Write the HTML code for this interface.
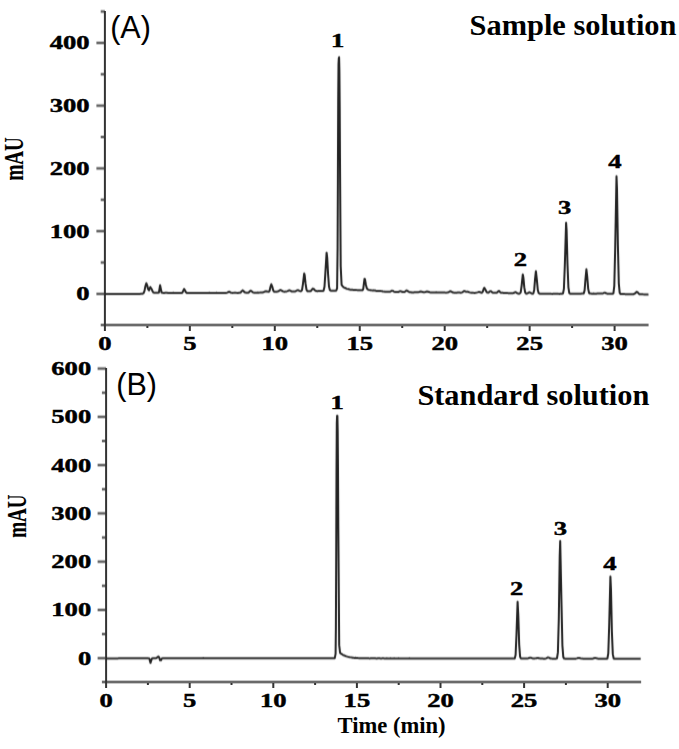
<!DOCTYPE html>
<html><head><meta charset="utf-8"><style>
html,body{margin:0;padding:0;background:#fff;overflow:hidden;}
svg{display:block;}
.t{font-family:"Liberation Serif",serif;font-weight:bold;fill:#000;font-size:19px;stroke:#000;stroke-width:0.45px;}
.ttl{font-family:"Liberation Serif",serif;font-weight:bold;fill:#000;}
.lab{font-family:"Liberation Sans",sans-serif;fill:#000;}
</style></head><body>
<svg width="679" height="749" viewBox="0 0 679 749">
<rect width="679" height="749" fill="#fff"/>
<defs><filter id="tb" x="-2%" y="-2%" width="104%" height="104%" color-interpolation-filters="sRGB"><feConvolveMatrix order="3 3" kernelMatrix="0.0120 0.1760 0.0120 0.0360 0.5280 0.0360 0.0120 0.1760 0.0120" divisor="1" edgeMode="none" preserveAlpha="false"/></filter><filter id="vb" x="-2%" y="-2%" width="104%" height="104%" color-interpolation-filters="sRGB"><feConvolveMatrix order="1 3" kernelMatrix="0.27 0.46 0.27" divisor="1" edgeMode="none" preserveAlpha="false"/></filter></defs>
<g stroke="#333" stroke-width="2" fill="none" stroke-linecap="butt">
<line x1="104.90" y1="10.92" x2="104.90" y2="326.00" />
<line x1="104.90" y1="326.00" x2="104.90" y2="331.00" />
<line x1="147.38" y1="326.00" x2="147.38" y2="328.00" />
<line x1="189.85" y1="326.00" x2="189.85" y2="331.00" />
<line x1="232.32" y1="326.00" x2="232.32" y2="328.00" />
<line x1="274.80" y1="326.00" x2="274.80" y2="331.00" />
<line x1="317.27" y1="326.00" x2="317.27" y2="328.00" />
<line x1="359.75" y1="326.00" x2="359.75" y2="331.00" />
<line x1="402.23" y1="326.00" x2="402.23" y2="328.00" />
<line x1="444.70" y1="326.00" x2="444.70" y2="331.00" />
<line x1="487.17" y1="326.00" x2="487.17" y2="328.00" />
<line x1="529.65" y1="326.00" x2="529.65" y2="331.00" />
<line x1="572.12" y1="326.00" x2="572.12" y2="328.00" />
<line x1="614.60" y1="326.00" x2="614.60" y2="331.00" />
<line x1="106.10" y1="367.98" x2="106.10" y2="683.00" />
<line x1="106.10" y1="683.00" x2="106.10" y2="688.00" />
<line x1="147.90" y1="683.00" x2="147.90" y2="685.00" />
<line x1="189.70" y1="683.00" x2="189.70" y2="688.00" />
<line x1="231.50" y1="683.00" x2="231.50" y2="685.00" />
<line x1="273.30" y1="683.00" x2="273.30" y2="688.00" />
<line x1="315.10" y1="683.00" x2="315.10" y2="685.00" />
<line x1="356.90" y1="683.00" x2="356.90" y2="688.00" />
<line x1="398.70" y1="683.00" x2="398.70" y2="685.00" />
<line x1="440.50" y1="683.00" x2="440.50" y2="688.00" />
<line x1="482.30" y1="683.00" x2="482.30" y2="685.00" />
<line x1="524.10" y1="683.00" x2="524.10" y2="688.00" />
<line x1="565.90" y1="683.00" x2="565.90" y2="685.00" />
<line x1="607.70" y1="683.00" x2="607.70" y2="688.00" />
</g>
<g stroke="#333" stroke-width="2" fill="none" stroke-linecap="butt" filter="url(#vb)">
<line x1="103.90" y1="325.00" x2="648.58" y2="325.00" />
<line x1="100.70" y1="325.00" x2="104.90" y2="325.00" />
<line x1="96.40" y1="293.90" x2="104.90" y2="293.90" />
<line x1="100.70" y1="262.52" x2="104.90" y2="262.52" />
<line x1="96.40" y1="231.15" x2="104.90" y2="231.15" />
<line x1="100.70" y1="199.77" x2="104.90" y2="199.77" />
<line x1="96.40" y1="168.40" x2="104.90" y2="168.40" />
<line x1="100.70" y1="137.02" x2="104.90" y2="137.02" />
<line x1="96.40" y1="105.65" x2="104.90" y2="105.65" />
<line x1="100.70" y1="74.28" x2="104.90" y2="74.28" />
<line x1="96.40" y1="42.90" x2="104.90" y2="42.90" />
<line x1="100.70" y1="11.52" x2="104.90" y2="11.52" />
<line x1="105.10" y1="682.00" x2="641.14" y2="682.00" />
<line x1="101.90" y1="682.00" x2="106.10" y2="682.00" />
<line x1="97.60" y1="658.20" x2="106.10" y2="658.20" />
<line x1="101.90" y1="634.07" x2="106.10" y2="634.07" />
<line x1="97.60" y1="609.93" x2="106.10" y2="609.93" />
<line x1="101.90" y1="585.80" x2="106.10" y2="585.80" />
<line x1="97.60" y1="561.66" x2="106.10" y2="561.66" />
<line x1="101.90" y1="537.53" x2="106.10" y2="537.53" />
<line x1="97.60" y1="513.39" x2="106.10" y2="513.39" />
<line x1="101.90" y1="489.26" x2="106.10" y2="489.26" />
<line x1="97.60" y1="465.12" x2="106.10" y2="465.12" />
<line x1="101.90" y1="440.99" x2="106.10" y2="440.99" />
<line x1="97.60" y1="416.85" x2="106.10" y2="416.85" />
<line x1="101.90" y1="392.72" x2="106.10" y2="392.72" />
<line x1="97.60" y1="368.58" x2="106.10" y2="368.58" />
</g>
<g filter="url(#tb)">
<path d="M104.90,293.90 L105.80,293.90 L106.70,293.90 L107.60,293.90 L108.50,293.90 L109.40,293.90 L110.30,293.90 L111.20,293.90 L112.10,293.90 L113.00,293.90 L113.90,293.90 L114.80,293.90 L115.70,293.90 L116.60,293.90 L117.50,293.90 L118.40,293.90 L119.30,293.90 L120.20,293.90 L121.10,293.90 L122.00,293.90 L122.90,293.90 L123.80,293.90 L124.70,293.90 L125.60,293.90 L126.50,293.90 L127.40,293.90 L128.30,293.90 L129.20,293.90 L130.10,293.90 L131.00,293.90 L131.90,293.90 L132.80,293.90 L133.70,293.90 L134.60,293.90 L135.50,293.90 L136.40,293.90 L137.30,293.90 L138.20,293.90 L139.10,293.90 L140.00,293.90 L140.90,293.84 L141.80,293.80 L142.70,293.69 L143.60,293.16 L144.50,290.91 L145.40,286.18 L146.30,283.19 L147.20,285.32 L148.10,289.20 L149.00,290.35 L149.90,287.89 L150.40,287.16 L151.70,289.24 L152.60,291.41 L153.50,292.52 L154.40,292.78 L155.30,292.82 L156.20,292.87 L157.10,292.84 L158.00,292.80 L158.90,292.59 L160.10,285.23 L160.70,288.23 L161.60,292.49 L162.50,292.86 L163.40,292.95 L164.30,292.94 L165.20,292.83 L166.10,292.79 L167.00,292.86 L167.90,292.93 L168.80,292.95 L169.70,293.01 L170.60,293.07 L171.50,293.03 L172.40,292.89 L173.30,292.83 L174.20,292.91 L175.10,293.01 L176.00,293.03 L176.90,293.05 L177.80,293.09 L178.70,293.07 L179.60,292.96 L180.50,292.90 L181.40,292.95 L182.30,292.71 L183.20,290.87 L184.10,289.00 L185.00,290.34 L185.90,292.26 L186.80,292.91 L187.70,292.98 L188.60,293.03 L189.50,293.05 L190.40,292.97 L191.30,292.90 L192.20,292.95 L193.10,293.03 L194.00,293.03 L194.90,293.00 L195.80,293.04 L196.70,293.06 L197.60,293.00 L198.50,292.93 L199.40,292.96 L200.30,293.02 L201.20,292.99 L202.10,292.94 L203.00,292.98 L203.90,293.06 L204.80,293.05 L205.70,292.99 L206.60,292.98 L207.50,292.99 L208.40,292.92 L209.30,292.85 L210.20,292.90 L211.10,293.03 L212.00,293.07 L212.90,293.01 L213.80,292.97 L214.70,292.96 L215.60,292.91 L216.50,292.84 L217.40,292.88 L218.30,292.99 L219.20,293.01 L220.10,292.94 L221.00,292.90 L221.90,292.94 L222.80,292.96 L223.70,292.91 L224.60,292.90 L225.50,292.94 L226.40,292.90 L227.30,292.63 L228.20,292.09 L229.10,291.73 L230.00,292.13 L230.90,292.68 L231.80,292.86 L232.70,292.89 L233.60,292.84 L234.50,292.75 L235.40,292.74 L236.30,292.85 L237.20,292.93 L238.10,292.89 L239.00,292.82 L239.90,292.76 L240.80,292.36 L241.70,291.21 L242.60,290.40 L243.50,291.02 L244.40,292.06 L245.30,292.57 L246.20,292.68 L247.10,292.75 L248.00,292.75 L248.90,292.29 L249.80,291.23 L250.70,290.68 L251.60,291.28 L252.50,292.08 L253.40,292.48 L254.30,292.66 L255.20,292.75 L256.10,292.72 L257.00,292.63 L257.90,292.62 L258.80,292.65 L259.70,292.62 L260.60,292.55 L261.50,292.55 L262.40,292.53 L263.30,292.29 L264.20,291.85 L265.10,291.43 L266.00,291.27 L266.90,291.40 L267.80,291.66 L268.70,291.78 L269.60,290.73 L270.50,286.85 L271.30,284.27 L272.30,286.85 L273.20,290.34 L274.10,291.73 L275.00,291.82 L275.90,291.71 L276.80,291.70 L277.70,291.61 L278.60,291.20 L279.50,290.48 L280.40,290.02 L281.30,290.35 L282.20,291.01 L283.10,291.44 L284.00,291.64 L284.90,291.69 L285.80,291.61 L286.70,291.43 L287.60,291.10 L288.50,290.60 L289.40,290.33 L290.30,290.62 L291.20,291.19 L292.10,291.53 L293.00,291.54 L293.90,291.45 L294.80,291.40 L295.70,291.24 L296.60,290.74 L297.50,290.19 L298.40,290.23 L299.30,290.80 L300.20,291.21 L301.10,291.23 L302.00,290.13 L302.90,284.34 L304.20,273.44 L304.70,275.35 L305.60,283.96 L306.50,289.73 L307.40,291.17 L308.30,291.30 L309.20,291.32 L310.10,291.28 L311.00,290.86 L311.90,289.67 L312.80,288.56 L313.70,288.96 L314.60,290.02 L315.50,290.80 L316.40,291.12 L317.30,291.19 L318.20,291.11 L319.10,291.01 L320.00,291.03 L320.90,291.12 L321.80,291.12 L322.70,291.02 L323.60,290.56 L324.50,286.77 L325.40,272.33 L326.60,252.65 L327.20,257.51 L328.10,274.55 L329.00,286.55 L329.90,290.19 L330.80,290.68 L331.70,290.75 L332.60,290.80 L333.50,290.76 L334.40,290.73 L335.30,290.71 L336.20,290.57 L337.10,288.41 L337.60,247.42 L337.90,176.47 L338.20,102.40 L338.50,64.29 L338.80,58.22 L339.10,57.28 L339.40,71.13 L339.70,107.65 L340.00,162.45 L340.70,266.24 L341.60,284.90 L342.50,286.06 L343.40,287.03 L344.30,287.58 L345.20,288.00 L346.10,288.49 L347.00,288.87 L347.90,289.10 L348.80,289.30 L349.70,289.54 L350.60,289.73 L351.50,289.79 L352.40,289.82 L353.30,289.91 L354.20,290.00 L355.10,290.01 L356.00,290.02 L356.90,290.13 L357.80,290.24 L358.70,290.22 L359.60,290.18 L360.50,290.23 L361.40,290.32 L362.30,290.32 L363.20,289.24 L364.50,278.88 L365.00,279.29 L365.90,284.75 L366.80,288.31 L367.70,289.39 L368.60,289.84 L369.50,290.11 L370.40,290.24 L371.30,290.35 L372.20,290.41 L373.10,290.39 L374.00,290.37 L374.90,290.50 L375.80,290.77 L376.70,290.95 L377.60,291.00 L378.50,291.04 L379.40,291.10 L380.30,291.11 L381.20,291.12 L382.10,291.26 L383.00,291.48 L383.90,291.62 L384.80,291.64 L385.70,291.68 L386.60,291.79 L387.50,291.86 L388.40,291.85 L389.30,291.84 L390.20,291.72 L391.10,291.20 L392.00,290.65 L392.90,290.86 L393.80,291.56 L394.70,291.96 L395.60,292.02 L396.50,292.03 L397.40,292.07 L398.30,291.97 L399.20,291.56 L400.10,291.16 L401.00,291.32 L401.90,291.79 L402.80,292.04 L403.70,292.08 L404.60,291.90 L405.50,291.21 L406.40,290.47 L407.30,290.64 L408.20,291.42 L409.10,291.99 L410.00,292.16 L410.90,292.24 L411.80,292.39 L412.70,292.48 L413.60,292.41 L414.50,292.27 L415.40,292.22 L416.30,292.24 L417.20,292.24 L418.10,292.18 L419.00,292.02 L419.90,291.72 L420.80,291.57 L421.70,291.76 L422.60,292.09 L423.50,292.31 L424.40,292.32 L425.30,292.13 L426.20,291.80 L427.10,291.58 L428.00,291.69 L428.90,292.00 L429.80,292.29 L430.70,292.48 L431.60,292.52 L432.50,292.47 L433.40,292.44 L434.30,292.45 L435.20,292.41 L436.10,292.37 L437.00,292.43 L437.90,292.57 L438.80,292.61 L439.70,292.54 L440.60,292.50 L441.50,292.51 L442.40,292.49 L443.30,292.43 L444.20,292.45 L445.10,292.56 L446.00,292.63 L446.90,292.58 L447.80,292.45 L448.70,292.11 L449.60,291.52 L450.50,291.23 L451.40,291.61 L452.30,292.23 L453.20,292.57 L454.10,292.65 L455.00,292.67 L455.90,292.73 L456.80,292.71 L457.70,292.59 L458.60,292.53 L459.50,292.61 L460.40,292.71 L461.30,292.67 L462.20,292.37 L463.10,291.69 L464.00,291.05 L464.90,291.23 L465.80,291.75 L466.70,291.77 L467.60,291.62 L468.50,291.93 L469.40,292.37 L470.30,292.62 L471.20,292.72 L472.10,292.75 L473.00,292.78 L473.90,292.88 L474.80,292.94 L475.70,292.84 L476.60,292.63 L477.50,292.39 L478.40,292.11 L479.30,292.00 L480.20,292.25 L481.10,292.66 L482.00,292.71 L482.90,291.39 L483.80,288.54 L484.30,287.83 L485.60,290.03 L486.50,291.90 L487.40,292.60 L488.30,292.65 L489.20,292.10 L490.10,291.16 L491.00,291.17 L491.90,292.13 L492.80,292.75 L493.70,292.85 L494.60,292.79 L495.50,292.79 L496.40,292.78 L497.30,292.32 L498.20,291.30 L499.10,291.06 L500.00,292.00 L500.90,292.71 L501.80,292.83 L502.70,292.84 L503.60,292.92 L504.50,292.94 L505.40,292.88 L506.30,292.90 L507.20,293.02 L508.10,293.13 L509.00,293.16 L509.90,293.19 L510.80,293.26 L511.70,293.27 L512.60,293.18 L513.50,293.01 L514.40,292.54 L515.30,292.06 L516.20,292.42 L517.10,293.19 L518.00,293.58 L518.90,293.65 L519.80,293.52 L520.70,292.29 L521.60,285.77 L522.80,274.41 L523.40,277.59 L524.30,287.44 L525.20,292.65 L526.10,293.66 L527.00,293.61 L527.90,293.17 L528.80,292.46 L529.70,292.34 L530.60,292.99 L531.50,293.49 L532.40,293.66 L533.30,293.43 L534.20,289.94 L535.10,278.51 L535.90,271.14 L536.90,280.03 L537.80,290.03 L538.70,293.19 L539.60,293.66 L540.50,293.79 L541.40,293.82 L542.30,293.77 L543.20,293.77 L544.10,293.81 L545.00,293.79 L545.90,293.71 L546.80,293.71 L547.70,293.77 L548.60,293.77 L549.50,293.73 L550.40,293.76 L551.30,293.86 L552.20,293.88 L553.10,293.80 L554.00,293.74 L554.90,293.76 L555.80,293.75 L556.70,293.71 L557.60,293.75 L558.50,293.87 L559.40,293.92 L560.30,293.83 L561.20,293.75 L562.10,293.76 L563.00,293.43 L563.90,288.92 L564.80,265.94 L566.10,222.77 L566.60,230.38 L567.50,264.57 L568.40,287.31 L569.30,293.09 L570.20,293.80 L571.10,293.79 L572.00,293.71 L572.90,293.70 L573.80,293.70 L574.70,293.65 L575.60,293.65 L576.50,293.77 L577.40,293.86 L578.30,293.80 L579.20,293.68 L580.10,293.65 L581.00,293.65 L581.90,293.62 L582.80,293.61 L583.70,293.43 L584.60,290.39 L585.50,278.93 L586.40,269.37 L587.30,277.46 L588.20,288.85 L589.10,293.02 L590.00,293.56 L590.90,293.61 L591.80,293.66 L592.70,293.64 L593.60,293.59 L594.50,293.63 L595.40,293.71 L596.30,293.69 L597.20,293.58 L598.10,293.55 L599.00,293.59 L599.90,293.58 L600.80,293.56 L601.70,293.58 L602.60,293.51 L603.50,293.13 L604.40,292.71 L605.30,292.80 L606.20,293.30 L607.10,293.63 L608.00,293.68 L608.90,293.69 L609.80,293.78 L610.70,293.84 L611.60,293.84 L612.50,293.87 L613.40,293.40 L614.30,285.83 L615.20,247.80 L616.50,176.33 L617.00,188.95 L617.90,245.61 L618.80,283.30 L619.70,292.91 L620.60,294.06 L621.50,294.11 L622.40,294.00 L623.30,293.95 L624.20,294.03 L625.10,294.13 L626.00,294.14 L626.90,294.13 L627.80,294.17 L628.70,294.19 L629.60,294.15 L630.50,294.14 L631.40,294.24 L632.30,294.31 L633.20,294.24 L634.10,294.01 L635.00,293.48 L635.90,292.49 L636.80,291.79 L637.70,292.31 L638.60,293.49 L639.50,294.23 L640.40,294.36 L641.30,294.29 L642.20,294.29 L643.10,294.37 L644.00,294.40 L644.90,294.40 L645.80,294.48 L646.70,294.57 L647.60,294.55 L648.50,294.47" fill="none" stroke="#222222" stroke-width="2.0" stroke-linejoin="round"/>
<path d="M106.10,658.40 L107.00,658.40 L107.90,658.40 L108.80,658.39 L109.70,658.39 L110.60,658.39 L111.50,658.39 L112.40,658.39 L113.30,658.38 L114.20,658.38 L115.10,658.38 L116.00,658.38 L116.90,658.38 L117.80,658.38 L118.70,658.37 L119.60,658.37 L120.50,658.37 L121.40,658.37 L122.30,658.37 L123.20,658.36 L124.10,658.36 L125.00,658.36 L125.90,658.36 L126.80,658.36 L127.70,658.35 L128.60,658.35 L129.50,658.35 L130.40,658.35 L131.30,658.35 L132.20,658.34 L133.10,658.34 L134.00,658.34 L134.90,658.34 L135.80,658.34 L136.70,658.33 L137.60,658.33 L138.50,658.33 L139.40,658.33 L140.30,658.33 L141.20,658.32 L142.10,658.33 L143.00,658.34 L143.90,658.33 L144.80,658.29 L145.70,658.27 L146.60,658.30 L147.50,658.36 L148.40,658.36 L149.30,658.57 L150.50,662.91 L151.10,661.06 L152.00,658.48 L152.90,658.30 L153.80,658.34 L154.70,658.35 L155.60,658.29 L156.50,658.08 L157.40,657.27 L158.30,656.51 L159.20,657.51 L160.10,660.35 L161.00,660.36 L161.90,658.44 L162.80,658.28 L163.70,658.28 L164.60,658.28 L165.50,658.29 L166.40,658.30 L167.30,658.27 L168.20,658.22 L169.10,658.23 L170.00,658.30 L170.90,658.31 L171.80,658.25 L172.70,658.22 L173.60,658.25 L174.50,658.28 L175.40,658.25 L176.30,658.22 L177.20,658.24 L178.10,658.29 L179.00,658.27 L179.90,658.21 L180.80,658.21 L181.70,658.25 L182.60,658.26 L183.50,658.23 L184.40,658.23 L185.30,658.26 L186.20,658.25 L187.10,658.19 L188.00,658.17 L188.90,658.24 L189.80,658.30 L190.70,658.26 L191.60,658.17 L192.50,658.15 L193.40,658.21 L194.30,658.25 L195.20,658.24 L196.10,658.22 L197.00,658.22 L197.90,658.19 L198.80,658.14 L199.70,658.16 L200.60,658.25 L201.50,658.29 L202.40,658.21 L203.30,658.12 L204.20,658.13 L205.10,658.22 L206.00,658.27 L206.90,658.23 L207.80,658.20 L208.70,658.19 L209.60,658.18 L210.50,658.17 L211.40,658.21 L212.30,658.27 L213.20,658.27 L214.10,658.19 L215.00,658.13 L215.90,658.18 L216.80,658.26 L217.70,658.27 L218.60,658.21 L219.50,658.19 L220.40,658.21 L221.30,658.22 L222.20,658.20 L223.10,658.21 L224.00,658.25 L224.90,658.25 L225.80,658.20 L226.70,658.18 L227.60,658.22 L228.50,658.25 L229.40,658.23 L230.30,658.20 L231.20,658.22 L232.10,658.25 L233.00,658.24 L233.90,658.19 L234.80,658.19 L235.70,658.24 L236.60,658.27 L237.50,658.24 L238.40,658.21 L239.30,658.21 L240.20,658.23 L241.10,658.23 L242.00,658.23 L242.90,658.26 L243.80,658.27 L244.70,658.22 L245.60,658.17 L246.50,658.20 L247.40,658.28 L248.30,658.31 L249.20,658.26 L250.10,658.19 L251.00,658.19 L251.90,658.23 L252.80,658.26 L253.70,658.28 L254.60,658.28 L255.50,658.25 L256.40,658.20 L257.30,658.19 L258.20,658.24 L259.10,658.31 L260.00,658.30 L260.90,658.23 L261.80,658.18 L262.70,658.21 L263.60,658.26 L264.50,658.29 L265.40,658.28 L266.30,658.25 L267.20,658.23 L268.10,658.22 L269.00,658.23 L269.90,658.27 L270.80,658.30 L271.70,658.27 L272.60,658.23 L273.50,658.22 L274.40,658.25 L275.30,658.28 L276.20,658.28 L277.10,658.26 L278.00,658.25 L278.90,658.25 L279.80,658.26 L280.70,658.26 L281.60,658.26 L282.50,658.27 L283.40,658.27 L284.30,658.27 L285.20,658.26 L286.10,658.26 L287.00,658.26 L287.90,658.26 L288.80,658.27 L289.70,658.28 L290.60,658.29 L291.50,658.27 L292.40,658.25 L293.30,658.24 L294.20,658.27 L295.10,658.31 L296.00,658.31 L296.90,658.27 L297.80,658.23 L298.70,658.24 L299.60,658.28 L300.50,658.31 L301.40,658.31 L302.30,658.29 L303.20,658.26 L304.10,658.24 L305.00,658.25 L305.90,658.31 L306.80,658.34 L307.70,658.31 L308.60,658.25 L309.50,658.22 L310.40,658.26 L311.30,658.33 L312.20,658.34 L313.10,658.30 L314.00,658.26 L314.90,658.25 L315.80,658.27 L316.70,658.29 L317.60,658.32 L318.50,658.33 L319.40,658.29 L320.30,658.24 L321.20,658.25 L322.10,658.31 L323.00,658.35 L323.90,658.32 L324.80,658.27 L325.70,658.26 L326.60,658.30 L327.50,658.31 L328.40,658.30 L329.30,658.30 L330.20,658.32 L331.10,658.30 L332.00,658.28 L332.90,658.28 L333.80,658.33 L334.70,658.34 L335.60,653.87 L335.90,627.02 L336.20,556.06 L336.50,470.50 L336.80,423.35 L337.10,415.71 L337.40,415.89 L337.70,430.86 L338.00,469.12 L338.30,526.28 L339.20,645.13 L340.10,652.99 L341.00,653.60 L341.90,654.21 L342.80,654.77 L343.70,655.26 L344.60,655.65 L345.50,656.04 L346.40,656.38 L347.30,656.64 L348.20,656.88 L349.10,657.11 L350.00,657.28 L350.90,657.38 L351.80,657.48 L352.70,657.65 L353.60,657.82 L354.50,657.88 L355.40,657.87 L356.30,657.90 L357.20,658.00 L358.10,658.09 L359.00,658.13 L359.90,658.15 L360.80,658.18 L361.70,658.19 L362.60,658.17 L363.50,658.20 L364.40,658.29 L365.30,658.35 L366.20,658.31 L367.10,658.23 L368.00,658.24 L368.90,658.33 L369.80,658.38 L370.70,658.35 L371.60,658.32 L372.50,658.33 L373.40,658.34 L374.30,658.33 L375.20,658.34 L376.10,658.39 L377.00,658.41 L377.90,658.35 L378.80,658.30 L379.70,658.35 L380.60,658.42 L381.50,658.42 L382.40,658.36 L383.30,658.34 L384.20,658.38 L385.10,658.41 L386.00,658.38 L386.90,658.37 L387.80,658.39 L388.70,658.42 L389.60,658.39 L390.50,658.36 L391.40,658.40 L392.30,658.43 L393.20,658.40 L394.10,658.36 L395.00,658.38 L395.90,658.44 L396.80,658.45 L397.70,658.38 L398.60,658.35 L399.50,658.41 L400.40,658.45 L401.30,658.43 L402.20,658.40 L403.10,658.40 L404.00,658.42 L404.90,658.41 L405.80,658.40 L406.70,658.44 L407.60,658.47 L408.50,658.43 L409.40,658.37 L410.30,658.38 L411.20,658.46 L412.10,658.50 L413.00,658.45 L413.90,658.39 L414.80,658.40 L415.70,658.44 L416.60,658.45 L417.50,658.45 L418.40,658.46 L419.30,658.46 L420.20,658.42 L421.10,658.39 L422.00,658.43 L422.90,658.50 L423.80,658.50 L424.70,658.43 L425.60,658.39 L426.50,658.43 L427.40,658.49 L428.30,658.49 L429.20,658.46 L430.10,658.45 L431.00,658.45 L431.90,658.45 L432.80,658.45 L433.70,658.47 L434.60,658.50 L435.50,658.48 L436.40,658.43 L437.30,658.44 L438.20,658.49 L439.10,658.51 L440.00,658.48 L440.90,658.44 L441.80,658.46 L442.70,658.49 L443.60,658.50 L444.50,658.48 L445.40,658.47 L446.30,658.48 L447.20,658.48 L448.10,658.48 L449.00,658.49 L449.90,658.51 L450.80,658.50 L451.70,658.47 L452.60,658.47 L453.50,658.50 L454.40,658.53 L455.30,658.52 L456.20,658.48 L457.10,658.47 L458.00,658.50 L458.90,658.53 L459.80,658.53 L460.70,658.51 L461.60,658.49 L462.50,658.49 L463.40,658.50 L464.30,658.52 L465.20,658.54 L466.10,658.54 L467.00,658.50 L467.90,658.48 L468.80,658.50 L469.70,658.54 L470.60,658.56 L471.50,658.54 L472.40,658.50 L473.30,658.49 L474.20,658.52 L475.10,658.55 L476.00,658.56 L476.90,658.54 L477.80,658.52 L478.70,658.51 L479.60,658.53 L480.50,658.55 L481.40,658.57 L482.30,658.56 L483.20,658.53 L484.10,658.51 L485.00,658.53 L485.90,658.57 L486.80,658.58 L487.70,658.55 L488.60,658.52 L489.50,658.53 L490.40,658.56 L491.30,658.58 L492.20,658.57 L493.10,658.55 L494.00,658.55 L494.90,658.55 L495.80,658.56 L496.70,658.57 L497.60,658.59 L498.50,658.57 L499.40,658.54 L500.30,658.53 L501.20,658.58 L502.10,658.61 L503.00,658.60 L503.90,658.55 L504.80,658.54 L505.70,658.58 L506.60,658.61 L507.50,658.59 L508.40,658.58 L509.30,658.58 L510.20,658.58 L511.10,658.57 L512.00,658.58 L512.90,658.61 L513.80,658.62 L514.70,658.41 L515.60,655.03 L516.50,634.01 L517.60,601.80 L518.30,615.30 L519.20,644.85 L520.10,656.78 L521.00,658.50 L521.90,658.62 L522.80,658.62 L523.70,658.60 L524.60,658.61 L525.50,658.61 L526.40,658.57 L527.30,658.48 L528.20,658.33 L529.10,658.08 L530.00,657.84 L530.90,657.83 L531.80,658.09 L532.70,658.42 L533.60,658.59 L534.50,658.54 L535.40,658.37 L536.30,658.15 L537.20,657.98 L538.10,657.97 L539.00,658.15 L539.90,658.40 L540.80,658.57 L541.70,658.60 L542.60,658.59 L543.50,658.63 L544.40,658.69 L545.30,658.64 L546.20,658.36 L547.10,657.79 L548.00,657.37 L548.90,657.64 L549.80,658.22 L550.70,658.53 L551.60,658.62 L552.50,658.65 L553.40,658.65 L554.30,658.64 L555.20,658.67 L556.10,658.69 L557.00,658.26 L557.90,652.39 L558.80,618.96 L559.70,556.28 L560.20,541.07 L561.50,604.02 L562.40,645.57 L563.30,657.14 L564.20,658.62 L565.10,658.69 L566.00,658.67 L566.90,658.67 L567.80,658.70 L568.70,658.67 L569.60,658.65 L570.50,658.67 L571.40,658.73 L572.30,658.72 L573.20,658.65 L574.10,658.63 L575.00,658.67 L575.90,658.64 L576.80,658.40 L577.70,658.07 L578.60,657.89 L579.50,657.98 L580.40,658.24 L581.30,658.47 L582.20,658.62 L583.10,658.70 L584.00,658.71 L584.90,658.68 L585.80,658.70 L586.70,658.75 L587.60,658.75 L588.50,658.68 L589.40,658.65 L590.30,658.71 L591.20,658.75 L592.10,658.66 L593.00,658.43 L593.90,658.17 L594.80,658.03 L595.70,658.10 L596.60,658.31 L597.50,658.54 L598.40,658.69 L599.30,658.71 L600.20,658.68 L601.10,658.70 L602.00,658.77 L602.90,658.80 L603.80,658.74 L604.70,658.68 L605.60,658.69 L606.50,658.76 L607.40,658.47 L608.30,653.34 L609.20,624.91 L610.40,576.45 L611.00,590.01 L611.90,632.03 L612.80,654.13 L613.70,658.44 L614.60,658.78 L615.50,658.73 L616.40,658.70 L617.30,658.75 L618.20,658.81 L619.10,658.80 L620.00,658.75 L620.90,658.74 L621.80,658.76 L622.70,658.78 L623.60,658.77 L624.50,658.77 L625.40,658.78 L626.30,658.78 L627.20,658.76 L628.10,658.76 L629.00,658.79 L629.90,658.81 L630.80,658.78 L631.70,658.76 L632.60,658.78 L633.50,658.81 L634.40,658.81 L635.30,658.77 L636.20,658.76 L637.10,658.79 L638.00,658.82 L638.90,658.81 L639.80,658.80 L640.70,658.79" fill="none" stroke="#222222" stroke-width="2.0" stroke-linejoin="round"/>
</g>
<g class="t">
<text transform="translate(89.60,300.31) scale(1.4,1)" text-anchor="end">0</text>
<text transform="translate(89.60,237.56) scale(1.4,1)" text-anchor="end">100</text>
<text transform="translate(89.60,174.81) scale(1.4,1)" text-anchor="end">200</text>
<text transform="translate(89.60,112.06) scale(1.4,1)" text-anchor="end">300</text>
<text transform="translate(89.60,49.31) scale(1.4,1)" text-anchor="end">400</text>
<text transform="translate(104.90,350.20) scale(1.4,1)" text-anchor="middle">0</text>
<text transform="translate(189.85,350.20) scale(1.4,1)" text-anchor="middle">5</text>
<text transform="translate(274.80,350.20) scale(1.4,1)" text-anchor="middle">10</text>
<text transform="translate(359.75,350.20) scale(1.4,1)" text-anchor="middle">15</text>
<text transform="translate(444.70,350.20) scale(1.4,1)" text-anchor="middle">20</text>
<text transform="translate(529.65,350.20) scale(1.4,1)" text-anchor="middle">25</text>
<text transform="translate(614.60,350.20) scale(1.4,1)" text-anchor="middle">30</text>
<text transform="translate(91.20,664.61) scale(1.4,1)" text-anchor="end">0</text>
<text transform="translate(91.20,616.34) scale(1.4,1)" text-anchor="end">100</text>
<text transform="translate(91.20,568.07) scale(1.4,1)" text-anchor="end">200</text>
<text transform="translate(91.20,519.80) scale(1.4,1)" text-anchor="end">300</text>
<text transform="translate(91.20,471.53) scale(1.4,1)" text-anchor="end">400</text>
<text transform="translate(91.20,423.26) scale(1.4,1)" text-anchor="end">500</text>
<text transform="translate(91.20,374.99) scale(1.4,1)" text-anchor="end">600</text>
<text transform="translate(106.10,707.30) scale(1.4,1)" text-anchor="middle">0</text>
<text transform="translate(189.70,707.30) scale(1.4,1)" text-anchor="middle">5</text>
<text transform="translate(273.30,707.30) scale(1.4,1)" text-anchor="middle">10</text>
<text transform="translate(356.90,707.30) scale(1.4,1)" text-anchor="middle">15</text>
<text transform="translate(440.50,707.30) scale(1.4,1)" text-anchor="middle">20</text>
<text transform="translate(524.10,707.30) scale(1.4,1)" text-anchor="middle">25</text>
<text transform="translate(607.70,707.30) scale(1.4,1)" text-anchor="middle">30</text>
<text transform="translate(337.70,46.88) scale(1.4,1)" text-anchor="middle">1</text>
<text transform="translate(520.50,266.18) scale(1.4,1)" text-anchor="middle">2</text>
<text transform="translate(564.60,214.28) scale(1.4,1)" text-anchor="middle">3</text>
<text transform="translate(614.80,167.58) scale(1.4,1)" text-anchor="middle">4</text>
<text transform="translate(337.20,409.18) scale(1.4,1)" text-anchor="middle">1</text>
<text transform="translate(516.70,595.38) scale(1.4,1)" text-anchor="middle">2</text>
<text transform="translate(560.40,535.38) scale(1.4,1)" text-anchor="middle">3</text>
<text transform="translate(610.00,569.78) scale(1.4,1)" text-anchor="middle">4</text>
<text transform="translate(23.4,158.9) scale(1.4,1) rotate(-90)" text-anchor="middle" stroke-width="0.1">mAU</text>
<text transform="translate(25.7,516.2) scale(1.4,1) rotate(-90)" text-anchor="middle" stroke-width="0.1">mAU</text>
</g>
<text class="ttl" x="469.6" y="35.1" font-size="30.4">Sample solution</text>
<text class="ttl" x="417.4" y="404.6" font-size="30.35">Standard solution</text>
<text class="ttl" x="337.5" y="733.2" font-size="22.6">Time (min)</text>
<text class="lab" transform="translate(110.2,38.2) scale(0.955,1)" font-size="32">(A)</text>
<text class="lab" x="116.3" y="395.0" font-size="30.5">(B)</text>
</svg>
</body></html>
